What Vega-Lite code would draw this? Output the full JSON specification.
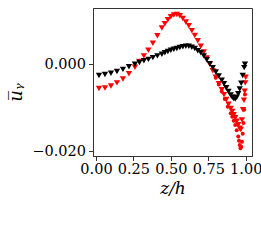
{
  "$schema": "https://vega.github.io/schema/vega-lite/v6.json",
  "width": 159,
  "height": 148,
  "autosize": {"type": "none"},
  "padding": {"left": 93, "top": 8, "right": 9, "bottom": 87},
  "background": "white",
  "view": {"stroke": "#333333", "strokeWidth": 1},
  "config": {
    "view": {"stroke": "#333333", "strokeWidth": 1},
    "axis": {
      "labelFont": "DejaVu Serif",
      "labelFontSize": 14.5,
      "labelColor": "black",
      "titleFont": "DejaVu Serif",
      "titleFontSize": 17,
      "titleFontStyle": "italic",
      "titleFontWeight": "normal",
      "titleColor": "black",
      "tickColor": "#333333",
      "tickSize": 4.5,
      "domainColor": "#333333",
      "grid": false
    }
  },
  "datasets": {
    "pts": [
      {"s": "rt", "z": 0.02, "v": -0.0056},
      {"s": "rt", "z": 0.06, "v": -0.0055},
      {"s": "rt", "z": 0.10, "v": -0.0050},
      {"s": "rt", "z": 0.14, "v": -0.0043},
      {"s": "rt", "z": 0.18, "v": -0.0034},
      {"s": "rt", "z": 0.22, "v": -0.0022},
      {"s": "rt", "z": 0.26, "v": -0.0007},
      {"s": "rt", "z": 0.29, "v": 0.0006},
      {"s": "rt", "z": 0.32, "v": 0.0019},
      {"s": "rt", "z": 0.35, "v": 0.0032},
      {"s": "rt", "z": 0.38, "v": 0.0048},
      {"s": "rt", "z": 0.41, "v": 0.0065},
      {"s": "rt", "z": 0.44, "v": 0.0083},
      {"s": "rt", "z": 0.46, "v": 0.0093},
      {"s": "rt", "z": 0.48, "v": 0.0102},
      {"s": "rt", "z": 0.50, "v": 0.0109},
      {"s": "rt", "z": 0.52, "v": 0.0113},
      {"s": "rt", "z": 0.54, "v": 0.0114},
      {"s": "rt", "z": 0.56, "v": 0.0111},
      {"s": "rt", "z": 0.58, "v": 0.0105},
      {"s": "rt", "z": 0.60, "v": 0.0097},
      {"s": "rt", "z": 0.62, "v": 0.0088},
      {"s": "rt", "z": 0.64, "v": 0.0077},
      {"s": "rt", "z": 0.66, "v": 0.0066},
      {"s": "rt", "z": 0.68, "v": 0.0054},
      {"s": "rt", "z": 0.70, "v": 0.0041},
      {"s": "rt", "z": 0.72, "v": 0.0028},
      {"s": "rt", "z": 0.74, "v": 0.0014},
      {"s": "rt", "z": 0.76, "v": 0.0000},
      {"s": "rt", "z": 0.78, "v": -0.0015},
      {"s": "rt", "z": 0.80, "v": -0.0030},
      {"s": "rt", "z": 0.82, "v": -0.0045},
      {"s": "rt", "z": 0.84, "v": -0.0059},
      {"s": "rt", "z": 0.855, "v": -0.0070},
      {"s": "rt", "z": 0.87, "v": -0.0081},
      {"s": "rt", "z": 0.885, "v": -0.0092},
      {"s": "rt", "z": 0.90, "v": -0.0102},
      {"s": "rt", "z": 0.91, "v": -0.0109},
      {"s": "rt", "z": 0.92, "v": -0.0116},
      {"s": "rt", "z": 0.93, "v": -0.0123},
      {"s": "rt", "z": 0.94, "v": -0.0131},
      {"s": "rt", "z": 0.95, "v": -0.0139},
      {"s": "rt", "z": 0.96, "v": -0.0147},
      {"s": "rt", "z": 0.967, "v": -0.0150},
      {"s": "rt", "z": 0.975, "v": -0.0128},
      {"s": "rt", "z": 0.982, "v": -0.0105},
      {"s": "rt", "z": 0.988, "v": -0.0083},
      {"s": "rt", "z": 0.993, "v": -0.0062},
      {"s": "rt", "z": 0.997, "v": -0.0043},
      {"s": "rt", "z": 1.0, "v": -0.0030},
      {"s": "rd", "z": 0.80, "v": -0.0031},
      {"s": "rd", "z": 0.82, "v": -0.0047},
      {"s": "rd", "z": 0.84, "v": -0.0063},
      {"s": "rd", "z": 0.86, "v": -0.0080},
      {"s": "rd", "z": 0.88, "v": -0.0098},
      {"s": "rd", "z": 0.90, "v": -0.0113},
      {"s": "rd", "z": 0.91, "v": -0.0121},
      {"s": "rd", "z": 0.92, "v": -0.0130},
      {"s": "rd", "z": 0.93, "v": -0.0140},
      {"s": "rd", "z": 0.94, "v": -0.0152},
      {"s": "rd", "z": 0.95, "v": -0.0166},
      {"s": "rd", "z": 0.955, "v": -0.0176},
      {"s": "rd", "z": 0.96, "v": -0.0186},
      {"s": "rd", "z": 0.965, "v": -0.0193},
      {"s": "rd", "z": 0.97, "v": -0.0190},
      {"s": "rd", "z": 0.975, "v": -0.0178},
      {"s": "rd", "z": 0.98, "v": -0.0160},
      {"s": "rd", "z": 0.985, "v": -0.0135},
      {"s": "rd", "z": 0.99, "v": -0.0105},
      {"s": "rd", "z": 0.995, "v": -0.0070},
      {"s": "bt", "z": 0.02, "v": -0.0026},
      {"s": "bt", "z": 0.06, "v": -0.0024},
      {"s": "bt", "z": 0.10, "v": -0.0021},
      {"s": "bt", "z": 0.14, "v": -0.0017},
      {"s": "bt", "z": 0.18, "v": -0.0012},
      {"s": "bt", "z": 0.22, "v": -0.0006},
      {"s": "bt", "z": 0.26, "v": 0.0000},
      {"s": "bt", "z": 0.29, "v": 0.0004},
      {"s": "bt", "z": 0.32, "v": 0.0008},
      {"s": "bt", "z": 0.35, "v": 0.0011},
      {"s": "bt", "z": 0.38, "v": 0.0015},
      {"s": "bt", "z": 0.41, "v": 0.0019},
      {"s": "bt", "z": 0.44, "v": 0.0023},
      {"s": "bt", "z": 0.46, "v": 0.0026},
      {"s": "bt", "z": 0.48, "v": 0.0029},
      {"s": "bt", "z": 0.50, "v": 0.0032},
      {"s": "bt", "z": 0.52, "v": 0.0034},
      {"s": "bt", "z": 0.54, "v": 0.0036},
      {"s": "bt", "z": 0.56, "v": 0.0038},
      {"s": "bt", "z": 0.58, "v": 0.0040},
      {"s": "bt", "z": 0.60, "v": 0.0041},
      {"s": "bt", "z": 0.62, "v": 0.0041},
      {"s": "bt", "z": 0.64, "v": 0.0039},
      {"s": "bt", "z": 0.66, "v": 0.0036},
      {"s": "bt", "z": 0.68, "v": 0.0031},
      {"s": "bt", "z": 0.70, "v": 0.0026},
      {"s": "bt", "z": 0.72, "v": 0.0019},
      {"s": "bt", "z": 0.74, "v": 0.0010},
      {"s": "bt", "z": 0.76, "v": 0.0001},
      {"s": "bt", "z": 0.78, "v": -0.0008},
      {"s": "bt", "z": 0.80, "v": -0.0018},
      {"s": "bt", "z": 0.82, "v": -0.0027},
      {"s": "bt", "z": 0.84, "v": -0.0037},
      {"s": "bt", "z": 0.855, "v": -0.0045},
      {"s": "bt", "z": 0.87, "v": -0.0054},
      {"s": "bt", "z": 0.885, "v": -0.0063},
      {"s": "bt", "z": 0.90, "v": -0.0071},
      {"s": "bt", "z": 0.91, "v": -0.0076},
      {"s": "bt", "z": 0.92, "v": -0.0079},
      {"s": "bt", "z": 0.93, "v": -0.0080},
      {"s": "bt", "z": 0.94, "v": -0.0076},
      {"s": "bt", "z": 0.95, "v": -0.0068},
      {"s": "bt", "z": 0.96, "v": -0.0057},
      {"s": "bt", "z": 0.97, "v": -0.0044},
      {"s": "bt", "z": 0.98, "v": -0.0026},
      {"s": "bt", "z": 0.99, "v": -0.0008},
      {"s": "bt", "z": 0.995, "v": 0.0000}
    ]
  },
  "data": {"name": "pts"},
  "encoding": {
    "x": {
      "field": "z",
      "type": "quantitative",
      "scale": {"domain": [-0.02, 1.042], "nice": false, "zero": false},
      "axis": {"values": [0, 0.25, 0.5, 0.75, 1], "format": ".2f", "title": "z/h", "labelPadding": 2, "titlePadding": 4, "labelFlush": false}
    },
    "y": {
      "field": "v",
      "type": "quantitative",
      "scale": {"domain": [-0.0211, 0.0129], "nice": false, "zero": false},
      "axis": {"values": [-0.02, 0], "format": ".3f", "labelExpr": "replace(datum.label, '-', '\u2212')", "title": "u\u0305\u1d67", "titleFontSize": 18, "titleY": 84, "labelPadding": 3, "titlePadding": 6}
    }
  },
  "layer": [
    {
      "transform": [{"filter": "datum.s == 'rt'"}],
      "mark": {"type": "point", "shape": "triangle-down", "filled": true, "opacity": 1, "size": 40, "color": "#ff0000"}
    },
    {
      "transform": [{"filter": "datum.s == 'rd'"}],
      "mark": {"type": "point", "shape": "circle", "filled": true, "opacity": 1, "size": 16, "color": "#ff0000"}
    },
    {
      "transform": [{"filter": "datum.s == 'bt'"}],
      "mark": {"type": "point", "shape": "triangle-down", "filled": true, "opacity": 1, "size": 40, "color": "#000000"}
    }
  ]
}
